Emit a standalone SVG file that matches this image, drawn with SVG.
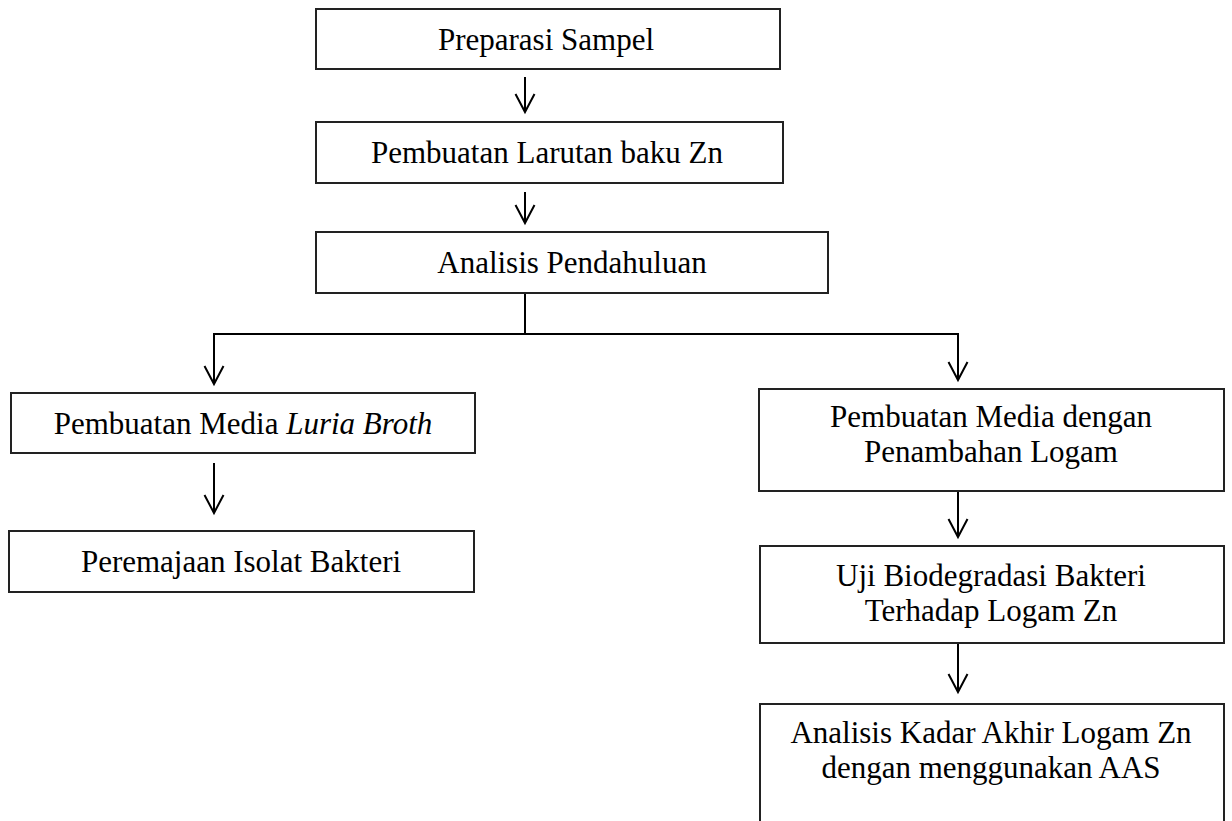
<svg xmlns="http://www.w3.org/2000/svg" width="1232" height="821" viewBox="0 0 1232 821">
<style>
.box{fill:#fff;stroke:#222;stroke-width:2}
.t{font-family:'Liberation Serif','Times New Roman',serif;font-size:31px;fill:#000;text-anchor:middle}
.c{fill:none;stroke:#000;stroke-width:2}
</style>
<defs>
<marker id="ah" markerUnits="userSpaceOnUse" markerWidth="24" markerHeight="24" viewBox="-22 -12 24 24" refX="0" refY="0" orient="auto" overflow="visible">
<path d="M-18 -9.5 L0 0 L-18 9.5" fill="none" stroke="#000" stroke-width="2"/>
</marker>
</defs>
<rect width="1232" height="821" fill="#fff"/>
<g id="connectors">
<path class="c" d="M525 77 V112" marker-end="url(#ah)"/>
<path class="c" d="M525 192 V223" marker-end="url(#ah)"/>
<path class="c" d="M525 293 V334"/>
<path class="c" d="M214 334 H958"/>
<path class="c" d="M214 333 V384" marker-end="url(#ah)"/>
<path class="c" d="M958 333 V380" marker-end="url(#ah)"/>
<path class="c" d="M214 463 V513" marker-end="url(#ah)"/>
<path class="c" d="M958 491 V537" marker-end="url(#ah)"/>
<path class="c" d="M958 644 V692" marker-end="url(#ah)"/>
</g>
<g id="n1"><rect class="box" x="316" y="9" width="464" height="60"/><text class="t" x="546" y="50">Preparasi Sampel</text></g>
<g id="n2"><rect class="box" x="316" y="122" width="467" height="61"/><text class="t" x="547" y="163">Pembuatan Larutan baku Zn</text></g>
<g id="n3"><rect class="box" x="316" y="232" width="512" height="61"/><text class="t" x="572" y="273">Analisis Pendahuluan</text></g>
<g id="n4"><rect class="box" x="11" y="393" width="464" height="60"/><text class="t" x="243" y="434">Pembuatan Media <tspan font-style="italic">Luria Broth</tspan></text></g>
<g id="n5"><rect class="box" x="9" y="531" width="465" height="61"/><text class="t" x="241" y="572">Peremajaan Isolat Bakteri</text></g>
<g id="n6"><rect class="box" x="759" y="389" width="465" height="102"/><text class="t" x="991" y="427">Pembuatan Media dengan</text><text class="t" x="991" y="462">Penambahan Logam</text></g>
<g id="n7"><rect class="box" x="760" y="546" width="464" height="97"/><text class="t" x="991" y="586">Uji Biodegradasi Bakteri</text><text class="t" x="991" y="621">Terhadap Logam Zn</text></g>
<g id="n8"><rect class="box" x="760" y="704" width="464" height="130"/><text class="t" x="991" y="743">Analisis Kadar Akhir Logam Zn</text><text class="t" x="991" y="778">dengan menggunakan AAS</text></g>
</svg>
